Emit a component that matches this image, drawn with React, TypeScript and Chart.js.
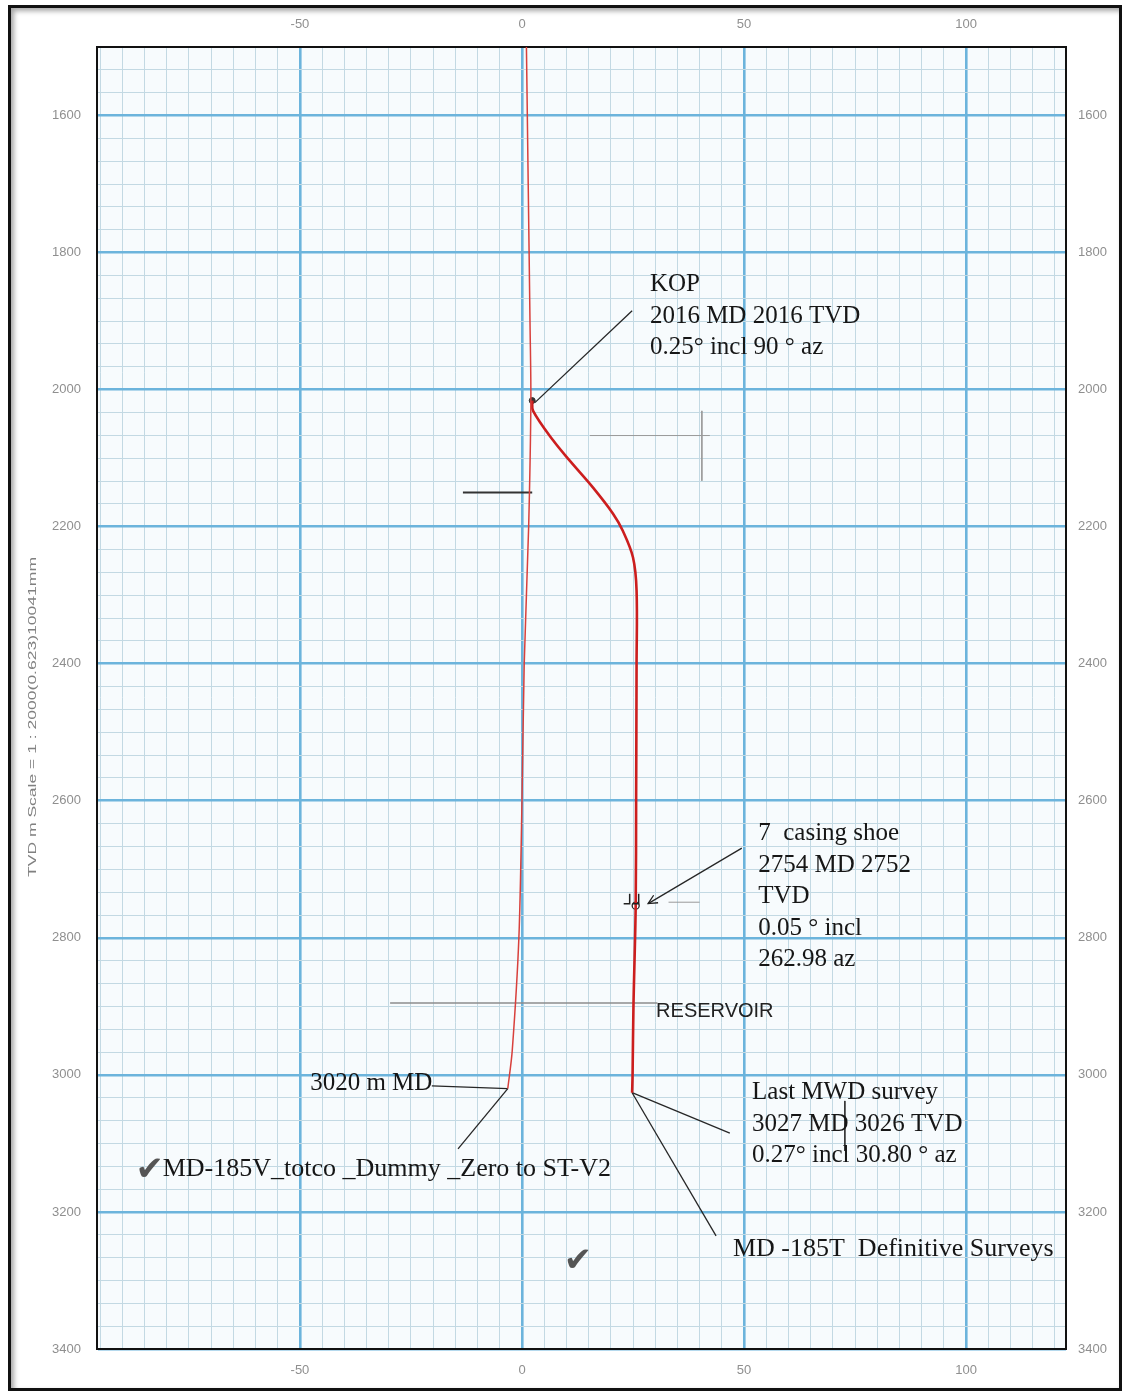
import React, { useEffect, useRef } from 'react';
import { Chart, registerables } from 'chart.js';

Chart.register(...registerables);

// ---- Data ----
// MD-185T Definitive Surveys: TVD (m) and East-West offset (m)
const defTVD = [2016, 2031, 2074, 2104, 2143, 2181, 2206, 2245, 2293, 2400, 2600, 2754, 2900, 3000, 3026];
const defEW = [2.3, 2.5, 7.0, 10.8, 16.0, 20.5, 22.7, 25.0, 25.8, 25.8, 25.7, 25.6, 25.1, 24.9, 24.8];

// MD-185V_totco _Dummy _Zero to ST-V2
const totTVD = [1500, 1700, 1900, 2016, 2200, 2400, 2600, 2800, 2965, 3020];
const totEW = [1.0, 1.4, 1.8, 2.0, 1.5, 0.5, 0.0, -0.7, -2.2, -3.2];

// Axis ranges and tick labels
const xRange = [-95.7, 122.5];
const yRange = [1500, 3400];
const xMajorTicks = [-50, 0, 50, 100];
const yMajorTicks = [1600, 1800, 2000, 2200, 2400, 2600, 2800, 3000, 3200, 3400];
const xMinorStep = 5;
const yMinorStep = 200 / 6;

// Markers
const kopPoint = { x: 2.3, y: 2016 };
const shoePoint = { x: 25.6, y: 2753 };

// Leader / reference lines (data coordinates)
const leaderFromX = [24.8, 49.5, -20.3, -3.2, 24.8, 24.8];
const leaderFromY = [1885, 2669, 3016, 3020, 3026, 3026];
const leaderToX = [2.9, 28.4, -3.2, -14.4, 46.8, 43.7];
const leaderToY = [2019, 2750, 3020, 3108, 3085, 3235];

// misc sketch lines: [x1, y1, x2, y2]
const reservoirLine = [-29.7, 2895, 30.5, 2895];
const sketchLines = [
  [-13.3, 2150, 2.3, 2150],
  [15.3, 2067, 42.3, 2067],
  [40.5, 2031, 40.5, 2133],
  [33.0, 2748, 40.0, 2748],
  [72.7, 3038, 72.7, 3111],
];

// Annotation texts
const kopText = ['KOP', '2016 MD 2016 TVD', '0.25° incl 90 ° az'];
const shoeText = ['7  casing shoe', '2754 MD 2752', 'TVD', '0.05 ° incl', '262.98 az'];
const mwdText = ['Last MWD survey', '3027 MD 3026 TVD', '0.27° incl 30.80 ° az'];
const mdLabel = '3020 m MD';
const totcoLabel = 'MD-185V_totco _Dummy _Zero to ST-V2';
const defLabel = 'MD -185T  Definitive Surveys';
const reservoirLabel = 'RESERVOIR';
const yTitle = 'TVD m Scale = 1 : 2000(0.623)10041mm';

const isMajor = (v: number, step: number) => Math.abs(v / step - Math.round(v / step)) < 1e-6;

function buildMinor(min: number, max: number, anchor: number, step: number) {
  const out: { value: number }[] = [];
  const kStart = Math.ceil((min - anchor) / step - 1e-9);
  const kEnd = Math.floor((max - anchor) / step + 1e-9);
  for (let k = kStart; k <= kEnd; k++) out.push({ value: anchor + k * step });
  return out;
}

export default function App() {
  const ref = useRef<HTMLCanvasElement | null>(null);

  useEffect(() => {
    document.body.style.margin = '0';
    const canvas = ref.current;
    if (!canvas) return;

    const serifFamily = '"Liberation Serif", "Times New Roman", serif';
    const ink = '#161616';

    const overlay = {
      id: 'overlay',
      beforeDraw(chart: any) {
        const { ctx, chartArea: a } = chart;
        ctx.save();
        ctx.fillStyle = '#f7fbfd';
        ctx.fillRect(a.left, a.top, a.right - a.left, a.bottom - a.top);
        ctx.restore();
      },
      afterDraw(chart: any) {
        const { ctx } = chart;
        const xs = chart.scales.x;
        const ys = chart.scales.y;
        const px = (v: number) => xs.getPixelForValue(v);
        const py = (v: number) => ys.getPixelForValue(v);
        ctx.save();
        ctx.textBaseline = 'middle';
        ctx.textAlign = 'left';
        ctx.fillStyle = ink;
        ctx.font = '25px ' + serifFamily;
        const block = (lines: string[], x: number, y: number) => {
          lines.forEach((l, i) => ctx.fillText(l, px(x), py(y) + i * 31.5));
        };
        block(kopText, 28.8, 1847);
        block(shoeText, 53.2, 2648);
        block(mwdText, 51.8, 3026);
        ctx.fillText(mdLabel, px(-47.7), py(3013));
        ctx.font = '26px ' + serifFamily;
        ctx.fillText(totcoLabel, px(-80.9), py(3137));
        ctx.fillText(defLabel, px(47.5), py(3254));

        ctx.font = '20px "Liberation Sans", Arial, sans-serif';
        ctx.fillStyle = '#222';
        ctx.fillText(reservoirLabel, px(30.2), py(2907));

        // check marks
        ctx.font = '34px "DejaVu Sans", sans-serif';
        ctx.fillStyle = '#555';
        ctx.textAlign = 'center';
        ctx.fillText('✔', px(-83.8), py(3140));
        ctx.fillText('✔', px(12.6), py(3274));

        // arrow head on casing-shoe leader
        const ax = px(leaderToX[1]);
        const ay = py(leaderToY[1]);
        const bx = px(leaderFromX[1]);
        const by = py(leaderFromY[1]);
        const ang = Math.atan2(ay - by, ax - bx);
        ctx.strokeStyle = '#222';
        ctx.lineWidth = 1.3;
        ctx.beginPath();
        ctx.moveTo(ax - 10 * Math.cos(ang - 0.45), ay - 10 * Math.sin(ang - 0.45));
        ctx.lineTo(ax, ay);
        ctx.lineTo(ax - 10 * Math.cos(ang + 0.45), ay - 10 * Math.sin(ang + 0.45));
        ctx.stroke();

        // casing shoe symbol
        const sx = px(shoePoint.x);
        const sy = py(shoePoint.y);
        ctx.lineWidth = 1.5;
        ctx.beginPath();
        ctx.moveTo(sx - 6, sy - 12); ctx.lineTo(sx - 6, sy - 2); ctx.lineTo(sx - 12, sy - 2);
        ctx.moveTo(sx + 3, sy - 12); ctx.lineTo(sx + 3, sy - 2); ctx.lineTo(sx - 3, sy - 2);
        ctx.stroke();

        // y-axis title
        ctx.translate(33, 717);
        ctx.rotate(-Math.PI / 2);
        ctx.font = '11px "Liberation Sans", Arial, sans-serif';
        ctx.fillStyle = '#808080';
        ctx.textAlign = 'center';
        const w = ctx.measureText(yTitle).width;
        ctx.scale(320 / w, 1);
        ctx.fillText(yTitle, 0, 0);
        ctx.restore();
      },
    };

    const line = (xsArr: number[], ysArr: number[]) => xsArr.map((x, i) => ({ x, y: ysArr[i] }));

    const datasets: any[] = [
      {
        label: 'totco',
        data: line(totEW, totTVD),
        borderColor: '#d8403c',
        borderWidth: 1.5,
        pointRadius: 0,
        showLine: true,
        tension: 0.3,
      },
      {
        label: 'definitive',
        data: line(defEW, defTVD),
        borderColor: '#cc1e1e',
        borderWidth: 2.6,
        pointRadius: 0,
        showLine: true,
        tension: 0.35,
      },
      {
        label: 'reservoir',
        data: [
          { x: reservoirLine[0], y: reservoirLine[1] },
          { x: reservoirLine[2], y: reservoirLine[3] },
        ],
        borderColor: '#8c8c8c',
        borderWidth: 1.6,
        pointRadius: 0,
        showLine: true,
      },
    ];
    sketchLines.forEach((s, i) => {
      datasets.push({
        label: 'sketch' + i,
        data: [{ x: s[0], y: s[1] }, { x: s[2], y: s[3] }],
        borderColor: i === 0 || i === 4 ? '#333' : '#9a9a9a',
        borderWidth: i === 0 ? 2 : 1,
        pointRadius: 0,
        showLine: true,
      });
    });
    leaderFromX.forEach((fx, i) => {
      datasets.push({
        label: 'leader' + i,
        data: [{ x: fx, y: leaderFromY[i] }, { x: leaderToX[i], y: leaderToY[i] }],
        borderColor: '#262626',
        borderWidth: 1.3,
        pointRadius: 0,
        showLine: true,
      });
    });
    datasets.push({
      label: 'kop',
      data: [kopPoint],
      pointRadius: 3,
      pointBackgroundColor: '#333',
      pointBorderColor: '#333',
      showLine: false,
    });
    datasets.push({
      label: 'shoe',
      data: [shoePoint],
      pointRadius: 3.5,
      pointBackgroundColor: '#fff',
      pointBorderColor: '#222',
      pointBorderWidth: 1.3,
      showLine: false,
    });

    const tickFont = { family: '"Liberation Sans", Arial, sans-serif', size: 13 };
    const tickColor = '#8f8f8f';
    const border = { color: '#111', width: 2 };
    const plain = (v: any) => String(Math.round(Number(v)));
    const majorCol = '#6cb4dc';
    const minorCol = '#c3d9e3';

    const chart = new Chart(canvas, {
      type: 'scatter',
      data: { datasets },
      plugins: [overlay],
      options: {
        animation: false,
        responsive: false,
        maintainAspectRatio: false,
        devicePixelRatio: 1,
        layout: { padding: 0 },
        plugins: { legend: { display: false }, tooltip: { enabled: false } },
        scales: {
          x: {
            type: 'linear',
            position: 'bottom',
            min: xRange[0],
            max: xRange[1],
            afterBuildTicks: (s: any) => { s.ticks = buildMinor(xRange[0], xRange[1], 0, xMinorStep); },
            afterFit: (s: any) => { s.height = 44; },
            ticks: {
              autoSkip: false,
              maxRotation: 0,
              padding: 14,
              color: tickColor,
              font: tickFont,
              callback: (v: any) => (isMajor(Number(v), 50) ? plain(v) : ''),
            },
            grid: {
              drawTicks: false,
              color: (c: any) => (c.tick && isMajor(c.tick.value, 50) ? majorCol : minorCol),
              lineWidth: (c: any) => (c.tick && isMajor(c.tick.value, 50) ? 2.6 : 1),
            },
            border,
          },
          x2: {
            type: 'linear',
            position: 'top',
            min: xRange[0],
            max: xRange[1],
            afterBuildTicks: (s: any) => { s.ticks = xMajorTicks.map((value) => ({ value })); },
            afterFit: (s: any) => { s.height = 47; },
            ticks: { autoSkip: false, maxRotation: 0, padding: 15, color: tickColor, font: tickFont, callback: plain },
            grid: { display: false, drawTicks: false },
            border,
          },
          y: {
            type: 'linear',
            position: 'left',
            reverse: true,
            min: yRange[0],
            max: yRange[1],
            afterBuildTicks: (s: any) => { s.ticks = buildMinor(yRange[0], yRange[1], 1600, yMinorStep); },
            afterFit: (s: any) => { s.width = 97; },
            ticks: {
              autoSkip: false,
              padding: 16,
              color: tickColor,
              font: tickFont,
              callback: (v: any) => (isMajor(Number(v), 200) ? plain(v) : ''),
            },
            grid: {
              drawTicks: false,
              color: (c: any) => (c.tick && isMajor(c.tick.value, 200) ? majorCol : minorCol),
              lineWidth: (c: any) => (c.tick && isMajor(c.tick.value, 200) ? 2.6 : 1),
            },
            border,
          },
          y2: {
            type: 'linear',
            position: 'right',
            reverse: true,
            min: yRange[0],
            max: yRange[1],
            afterBuildTicks: (s: any) => { s.ticks = yMajorTicks.map((value) => ({ value })); },
            afterFit: (s: any) => { s.width = 59; },
            ticks: { autoSkip: false, padding: 12, color: tickColor, font: tickFont, callback: plain },
            grid: { display: false, drawTicks: false },
            border,
          },
        },
      } as any,
    });

    return () => chart.destroy();
  }, []);

  return (
    <div style={{ position: 'absolute', left: 0, top: 0, width: 1125, height: 1393, background: '#fff', overflow: 'hidden' }}>
      <div
        style={{
          position: 'absolute',
          left: 8,
          top: 5,
          width: 1114,
          height: 1386,
          boxSizing: 'border-box',
          border: '3px solid #111',
          boxShadow: 'inset 3px 3px 5px rgba(0,0,0,0.35)',
        }}
      />
      <canvas ref={ref} width={1125} height={1393} style={{ position: 'absolute', left: 0, top: 0 }} />
    </div>
  );
}
